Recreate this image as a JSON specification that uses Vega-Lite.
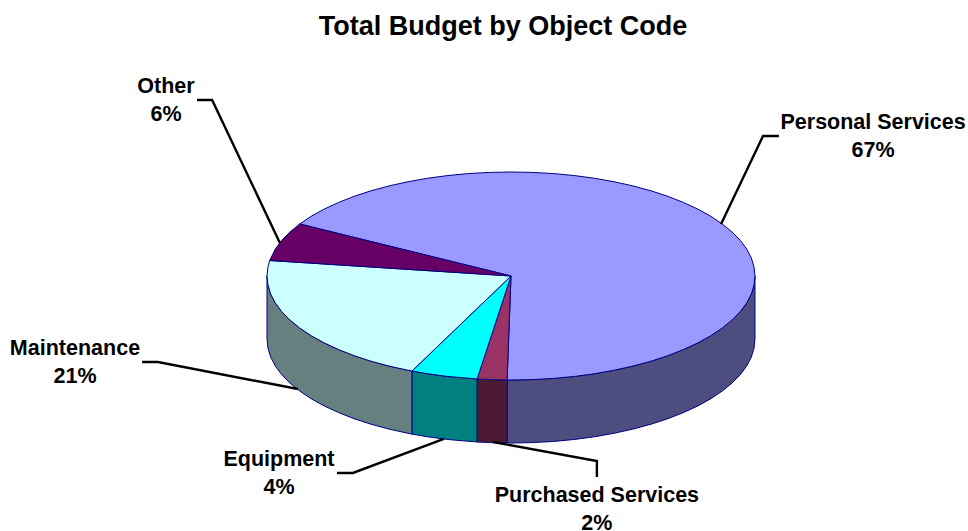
{"$schema":"https://vega.github.io/schema/vega-lite/v6.json","width":968,"height":531,"padding":0,"autosize":"none","background":"white",
"title":{"text":"Total Budget by Object Code","font":"Liberation Sans","fontSize":27,"fontWeight":"bold","color":"#000000","anchor":"middle","frame":"group","offset":-41,"dx":19},
"config":{"view":{"stroke":null}},
"datasets":{
"pie":[
{"k":"Personal Services wall","a":100,"b":0},{"k":"Personal Services wall","a":99.6,"b":-8.7},{"k":"Personal Services wall","a":98.5,"b":-17.4},{"k":"Personal Services wall","a":96.6,"b":-25.9},{"k":"Personal Services wall","a":94,"b":-34.2},{"k":"Personal Services wall","a":90.6,"b":-42.3},{"k":"Personal Services wall","a":86.6,"b":-50},{"k":"Personal Services wall","a":81.9,"b":-57.4},{"k":"Personal Services wall","a":76.6,"b":-64.3},{"k":"Personal Services wall","a":70.7,"b":-70.7},{"k":"Personal Services wall","a":64.3,"b":-76.6},{"k":"Personal Services wall","a":57.4,"b":-81.9},{"k":"Personal Services wall","a":50,"b":-86.6},{"k":"Personal Services wall","a":42.3,"b":-90.6},{"k":"Personal Services wall","a":34.2,"b":-94},{"k":"Personal Services wall","a":25.9,"b":-96.6},{"k":"Personal Services wall","a":17.4,"b":-98.5},{"k":"Personal Services wall","a":8.7,"b":-99.6},{"k":"Personal Services wall","a":0,"b":-100},{"k":"Personal Services wall","a":-1.6,"b":-100},{"k":"Personal Services wall","a":-1.6,"b":-160.6},{"k":"Personal Services wall","a":0,"b":-160.6},{"k":"Personal Services wall","a":8.7,"b":-160.2},{"k":"Personal Services wall","a":17.4,"b":-159.1},{"k":"Personal Services wall","a":25.9,"b":-157.2},{"k":"Personal Services wall","a":34.2,"b":-154.6},{"k":"Personal Services wall","a":42.3,"b":-151.2},{"k":"Personal Services wall","a":50,"b":-147.2},{"k":"Personal Services wall","a":57.4,"b":-142.5},{"k":"Personal Services wall","a":64.3,"b":-137.2},{"k":"Personal Services wall","a":70.7,"b":-131.3},{"k":"Personal Services wall","a":76.6,"b":-124.9},{"k":"Personal Services wall","a":81.9,"b":-118},{"k":"Personal Services wall","a":86.6,"b":-110.6},{"k":"Personal Services wall","a":90.6,"b":-102.9},{"k":"Personal Services wall","a":94,"b":-94.8},{"k":"Personal Services wall","a":96.6,"b":-86.5},{"k":"Personal Services wall","a":98.5,"b":-78},{"k":"Personal Services wall","a":99.6,"b":-69.3},{"k":"Personal Services wall","a":100,"b":-60.6},{"k":"Personal Services wall","a":100,"b":0},
{"k":"Purchased Services wall","a":-1.6,"b":-100},{"k":"Purchased Services wall","a":-8.7,"b":-99.6},{"k":"Purchased Services wall","a":-13.9,"b":-99},{"k":"Purchased Services wall","a":-13.9,"b":-159.6},{"k":"Purchased Services wall","a":-8.7,"b":-160.2},{"k":"Purchased Services wall","a":-1.6,"b":-160.6},{"k":"Purchased Services wall","a":-1.6,"b":-100},
{"k":"Equipment wall","a":-13.9,"b":-99},{"k":"Equipment wall","a":-25.9,"b":-96.6},{"k":"Equipment wall","a":-34.2,"b":-94},{"k":"Equipment wall","a":-40.6,"b":-91.4},{"k":"Equipment wall","a":-40.6,"b":-152},{"k":"Equipment wall","a":-34.2,"b":-154.6},{"k":"Equipment wall","a":-25.9,"b":-157.2},{"k":"Equipment wall","a":-13.9,"b":-159.6},{"k":"Equipment wall","a":-13.9,"b":-99},
{"k":"Maintenance wall","a":-40.6,"b":-91.4},{"k":"Maintenance wall","a":-42.3,"b":-90.6},{"k":"Maintenance wall","a":-50,"b":-86.6},{"k":"Maintenance wall","a":-57.4,"b":-81.9},{"k":"Maintenance wall","a":-64.3,"b":-76.6},{"k":"Maintenance wall","a":-70.7,"b":-70.7},{"k":"Maintenance wall","a":-76.6,"b":-64.3},{"k":"Maintenance wall","a":-81.9,"b":-57.4},{"k":"Maintenance wall","a":-86.6,"b":-50},{"k":"Maintenance wall","a":-90.6,"b":-42.3},{"k":"Maintenance wall","a":-94,"b":-34.2},{"k":"Maintenance wall","a":-96.6,"b":-25.9},{"k":"Maintenance wall","a":-98.5,"b":-17.4},{"k":"Maintenance wall","a":-99.6,"b":-8.7},{"k":"Maintenance wall","a":-100,"b":0},{"k":"Maintenance wall","a":-100,"b":-60.6},{"k":"Maintenance wall","a":-99.6,"b":-69.3},{"k":"Maintenance wall","a":-98.5,"b":-78},{"k":"Maintenance wall","a":-96.6,"b":-86.5},{"k":"Maintenance wall","a":-94,"b":-94.8},{"k":"Maintenance wall","a":-90.6,"b":-102.9},{"k":"Maintenance wall","a":-86.6,"b":-110.6},{"k":"Maintenance wall","a":-81.9,"b":-118},{"k":"Maintenance wall","a":-76.6,"b":-124.9},{"k":"Maintenance wall","a":-70.7,"b":-131.3},{"k":"Maintenance wall","a":-64.3,"b":-137.2},{"k":"Maintenance wall","a":-57.4,"b":-142.5},{"k":"Maintenance wall","a":-50,"b":-147.2},{"k":"Maintenance wall","a":-42.3,"b":-151.2},{"k":"Maintenance wall","a":-40.6,"b":-152},{"k":"Maintenance wall","a":-40.6,"b":-91.4},
{"k":"Personal Services","a":0,"b":0},{"k":"Personal Services","a":-86.6,"b":50},{"k":"Personal Services","a":-81.9,"b":57.4},{"k":"Personal Services","a":-76.6,"b":64.3},{"k":"Personal Services","a":-70.7,"b":70.7},{"k":"Personal Services","a":-64.3,"b":76.6},{"k":"Personal Services","a":-57.4,"b":81.9},{"k":"Personal Services","a":-50,"b":86.6},{"k":"Personal Services","a":-42.3,"b":90.6},{"k":"Personal Services","a":-34.2,"b":94},{"k":"Personal Services","a":-25.9,"b":96.6},{"k":"Personal Services","a":-17.4,"b":98.5},{"k":"Personal Services","a":-8.7,"b":99.6},{"k":"Personal Services","a":0,"b":100},{"k":"Personal Services","a":8.7,"b":99.6},{"k":"Personal Services","a":17.4,"b":98.5},{"k":"Personal Services","a":25.9,"b":96.6},{"k":"Personal Services","a":34.2,"b":94},{"k":"Personal Services","a":42.3,"b":90.6},{"k":"Personal Services","a":50,"b":86.6},{"k":"Personal Services","a":57.4,"b":81.9},{"k":"Personal Services","a":64.3,"b":76.6},{"k":"Personal Services","a":70.7,"b":70.7},{"k":"Personal Services","a":76.6,"b":64.3},{"k":"Personal Services","a":81.9,"b":57.4},{"k":"Personal Services","a":86.6,"b":50},{"k":"Personal Services","a":90.6,"b":42.3},{"k":"Personal Services","a":94,"b":34.2},{"k":"Personal Services","a":96.6,"b":25.9},{"k":"Personal Services","a":98.5,"b":17.4},{"k":"Personal Services","a":99.6,"b":8.7},{"k":"Personal Services","a":100,"b":0},{"k":"Personal Services","a":99.6,"b":-8.7},{"k":"Personal Services","a":98.5,"b":-17.4},{"k":"Personal Services","a":96.6,"b":-25.9},{"k":"Personal Services","a":94,"b":-34.2},{"k":"Personal Services","a":90.6,"b":-42.3},{"k":"Personal Services","a":86.6,"b":-50},{"k":"Personal Services","a":81.9,"b":-57.4},{"k":"Personal Services","a":76.6,"b":-64.3},{"k":"Personal Services","a":70.7,"b":-70.7},{"k":"Personal Services","a":64.3,"b":-76.6},{"k":"Personal Services","a":57.4,"b":-81.9},{"k":"Personal Services","a":50,"b":-86.6},{"k":"Personal Services","a":42.3,"b":-90.6},{"k":"Personal Services","a":34.2,"b":-94},{"k":"Personal Services","a":25.9,"b":-96.6},{"k":"Personal Services","a":17.4,"b":-98.5},{"k":"Personal Services","a":8.7,"b":-99.6},{"k":"Personal Services","a":0,"b":-100},{"k":"Personal Services","a":-1.6,"b":-100},{"k":"Personal Services","a":0,"b":0},
{"k":"Purchased Services","a":0,"b":0},{"k":"Purchased Services","a":-1.6,"b":-100},{"k":"Purchased Services","a":-8.7,"b":-99.6},{"k":"Purchased Services","a":-13.9,"b":-99},{"k":"Purchased Services","a":0,"b":0},
{"k":"Equipment","a":0,"b":0},{"k":"Equipment","a":-13.9,"b":-99},{"k":"Equipment","a":-25.9,"b":-96.6},{"k":"Equipment","a":-34.2,"b":-94},{"k":"Equipment","a":-40.6,"b":-91.4},{"k":"Equipment","a":0,"b":0},
{"k":"Maintenance","a":0,"b":0},{"k":"Maintenance","a":-40.6,"b":-91.4},{"k":"Maintenance","a":-42.3,"b":-90.6},{"k":"Maintenance","a":-50,"b":-86.6},{"k":"Maintenance","a":-57.4,"b":-81.9},{"k":"Maintenance","a":-64.3,"b":-76.6},{"k":"Maintenance","a":-70.7,"b":-70.7},{"k":"Maintenance","a":-76.6,"b":-64.3},{"k":"Maintenance","a":-81.9,"b":-57.4},{"k":"Maintenance","a":-86.6,"b":-50},{"k":"Maintenance","a":-90.6,"b":-42.3},{"k":"Maintenance","a":-94,"b":-34.2},{"k":"Maintenance","a":-96.6,"b":-25.9},{"k":"Maintenance","a":-98.5,"b":-17.4},{"k":"Maintenance","a":-99.6,"b":-8.7},{"k":"Maintenance","a":-100,"b":0},{"k":"Maintenance","a":-99.6,"b":8.7},{"k":"Maintenance","a":-98.9,"b":14.9},{"k":"Maintenance","a":0,"b":0},
{"k":"Other","a":0,"b":0},{"k":"Other","a":-98.9,"b":14.9},{"k":"Other","a":-96.6,"b":25.9},{"k":"Other","a":-94,"b":34.2},{"k":"Other","a":-90.6,"b":42.3},{"k":"Other","a":-86.6,"b":50},{"k":"Other","a":0,"b":0}
],
"leaders":[
{"k":"Personal Services","a":86.1,"b":50},{"k":"Personal Services","a":103.3,"b":134.6},{"k":"Personal Services","a":109.8,"b":134.6},
{"k":"Other","a":-128.7,"b":169.2},{"k":"Other","a":-122.5,"b":169.2},{"k":"Other","a":-94.7,"b":31.7},
{"k":"Maintenance","a":-151.2,"b":-82.7},{"k":"Maintenance","a":-144.7,"b":-82.7},{"k":"Maintenance","a":-87.3,"b":-108.7},
{"k":"Equipment","a":-71.3,"b":-189.4},{"k":"Equipment","a":-64.8,"b":-189.4},{"k":"Equipment","a":-27.5,"b":-156.7},
{"k":"Purchased Services","a":-7.4,"b":-159.6},{"k":"Purchased Services","a":35.2,"b":-177.9},{"k":"Purchased Services","a":35.2,"b":-193.3}
],
"labels":[
{"label":"Personal Services\n67%","a":148.4,"b":147},
{"label":"Other\n6%","a":-141.4,"b":182},
{"label":"Maintenance\n21%","a":-178.7,"b":-70.5},
{"label":"Equipment\n4%","a":-95.1,"b":-176.5},
{"label":"Purchased Services\n2%","a":35.2,"b":-212}
]},
"encoding":{
"x":{"field":"a","type":"quantitative","axis":null,"scale":{"domain":[-209.43,187.3],"nice":false,"zero":false}},
"y":{"field":"b","type":"quantitative","axis":null,"scale":{"domain":[-245.19,265.38],"nice":false,"zero":false}}
},
"layer":[
{"data":{"name":"pie"},"mark":{"type":"line","stroke":"#000080","strokeWidth":1,"strokeJoin":"round"},
"encoding":{"order":{"value":null},"fill":{"field":"k","type":"nominal","legend":null,"scale":{"domain":["Personal Services","Purchased Services","Equipment","Maintenance","Other","Personal Services wall","Purchased Services wall","Equipment wall","Maintenance wall"],"range":["#9999ff","#993366","#00ffff","#ccffff","#660066","#4d4d80","#4d1a33","#008080","#668080"]}}}},
{"data":{"name":"leaders"},"mark":{"type":"line","color":"#000000","strokeWidth":2.4},
"encoding":{"order":{"value":null},"detail":{"field":"k"}}},
{"data":{"name":"labels"},"mark":{"type":"text","font":"Liberation Sans","fontSize":21.5,"fontWeight":"bold","color":"#000000","align":"center","baseline":"middle","lineBreak":"\n","lineHeight":28},
"encoding":{"text":{"field":"label"}}}
]}
